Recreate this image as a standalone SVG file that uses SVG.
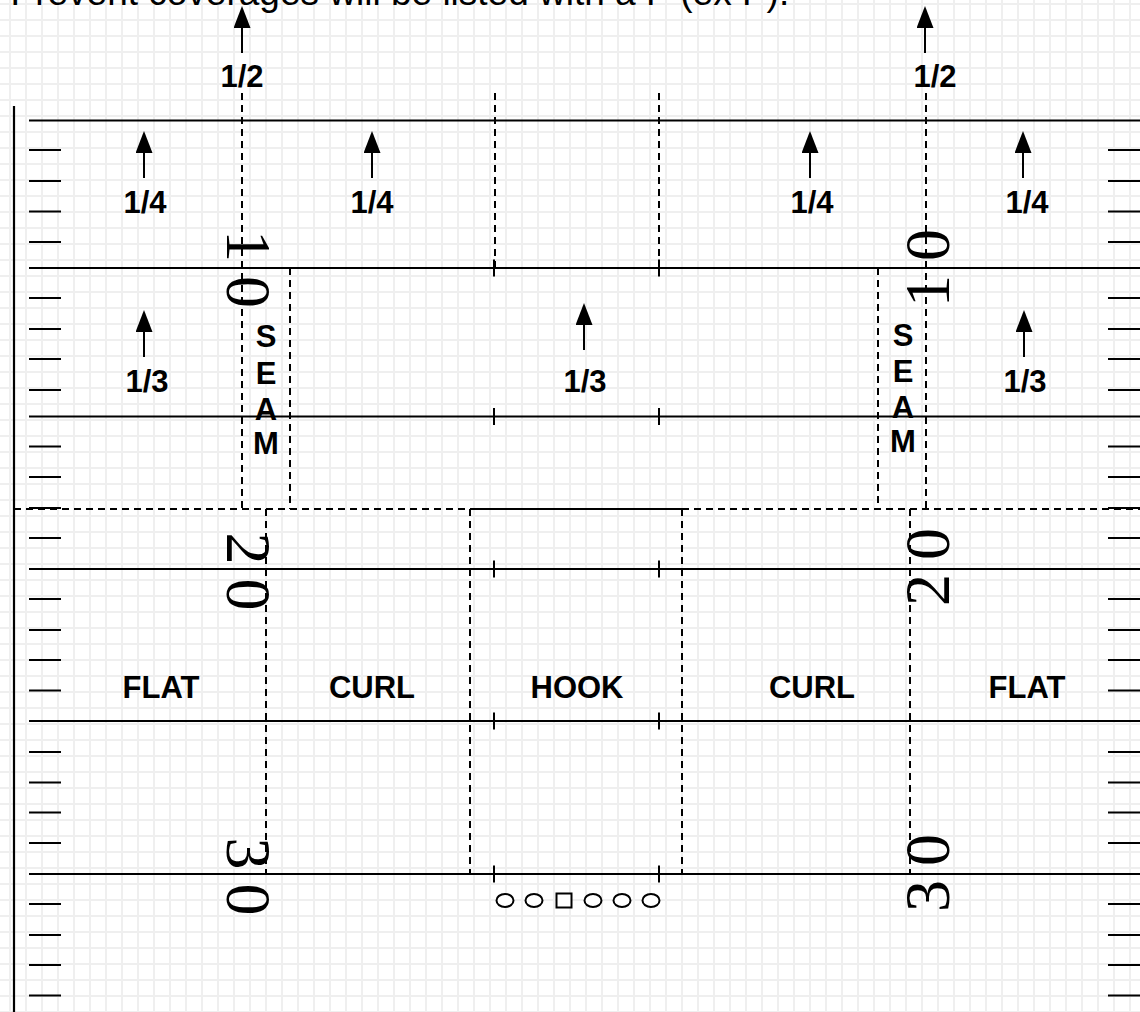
<svg xmlns="http://www.w3.org/2000/svg" width="1140" height="1012" viewBox="0 0 1140 1012">
  <defs>
    <pattern id="grid" x="9" y="3" width="16" height="16" patternUnits="userSpaceOnUse">
      <path d="M0 1H16M1 0V16" stroke="#efefef" stroke-width="2" fill="none"/>
    </pattern>
    <marker id="ah" markerUnits="userSpaceOnUse" markerWidth="22" markerHeight="17" viewBox="0 0 22 17" refX="0" refY="8.5" orient="auto">
      <path d="M0 0L22 8.5L0 17Z" fill="#000"/>
    </marker>
    <style>
      .yl{stroke:#000;stroke-width:2.2;fill:none}
      .dash{stroke:#000;stroke-width:2;stroke-dasharray:7 5;fill:none}
      .solid{stroke:#000;stroke-width:2;fill:none}
      .lbl{font-family:"Liberation Sans",Arial,sans-serif;font-weight:bold;font-size:31px;text-anchor:middle;fill:#000}
      .num{font-family:"Liberation Serif","Times New Roman",serif;font-size:64px;letter-spacing:14px;fill:#000}
      .arr{stroke:#000;stroke-width:2;fill:none;marker-end:url(#ah)}
      .pl{stroke:#000;stroke-width:2;fill:#fff}
    </style>
  </defs>
  <rect width="1140" height="1012" fill="#fff"/>
  <rect width="1140" height="1012" fill="url(#grid)"/>

  <text id="note" x="10.5" y="5" font-family="Liberation Sans, Arial, sans-serif" font-size="37" fill="#000">Prevent coverages will be listed with a P (ex P).</text>

  <g id="field">
    <path class="yl" d="M14 106V1012"/>
    <path class="yl" d="M29 120.5H1140M29 268H1140M29 416.5H1140M29 569H1140M29 721H1140M29 874H1140"/>
    <path class="solid" d="M29 150H61M29 181H61M29 211.5H61M29 242H61M29 298H61M29 329H61M29 359H61M29 390H61M29 446.5H61M29 477H61M29 508H61M29 538H61M29 599H61M29 630H61M29 660H61M29 690.5H61M29 752H61M29 782.5H61M29 812.5H61M29 843H61M29 904H61M29 935H61M29 965H61M29 995.5H61"/>
    <path class="solid" d="M1108 150H1140M1108 181H1140M1108 211.5H1140M1108 242H1140M1108 298H1140M1108 329H1140M1108 359H1140M1108 390H1140M1108 446.5H1140M1108 477H1140M1108 508H1140M1108 538H1140M1108 599H1140M1108 630H1140M1108 660H1140M1108 690.5H1140M1108 752H1140M1108 782.5H1140M1108 812.5H1140M1108 843H1140M1108 904H1140M1108 935H1140M1108 965H1140M1108 995.5H1140"/>
    <path class="solid" d="M494 259.5V276.5M659 259.5V276.5M494 408V425M659 408V425M494 560.5V577.5M659 560.5V577.5M494 712.5V729.5M659 712.5V729.5M494 865.5V882.5M659 865.5V882.5"/>
    <path class="dash" d="M495 93V268M659 93V268"/>
  </g>

  <g id="numbers">
    <text class="num" transform="translate(227 230) rotate(90)">10</text>
    <text class="num" transform="translate(227 532.5) rotate(90)">20</text>
    <text class="num" transform="translate(227 837.5) rotate(90)">30</text>
    <text class="num" transform="translate(949 307) rotate(-90)">10</text>
    <text class="num" transform="translate(949 606) rotate(-90)">20</text>
    <text class="num" transform="translate(949 912) rotate(-90)">30</text>
  </g>

  <g id="zones">
    <path class="dash" d="M242 93V509M926 93V509M290 268V509M878 268V509"/>
    <path class="dash" d="M14 509H470M682 509H1140"/>
    <path class="dash" d="M266 509V874M910 509V874M470 509V874M682 509V874"/>
    <path class="solid" d="M470 509H682"/>
  </g>

  <g id="offense">
    <ellipse class="pl" cx="505" cy="900.5" rx="8.5" ry="6.5"/>
    <ellipse class="pl" cx="534" cy="900.5" rx="8.5" ry="6.5"/>
    <rect class="pl" x="556.5" y="893.5" width="15" height="14"/>
    <ellipse class="pl" cx="593" cy="900.5" rx="8.5" ry="6.5"/>
    <ellipse class="pl" cx="622" cy="900.5" rx="8.5" ry="6.5"/>
    <ellipse class="pl" cx="651" cy="900.5" rx="8.5" ry="6.5"/>
  </g>

  <g id="connectors">
    <path class="arr" d="M242 53V28"/>
    <path class="arr" d="M925 53V28"/>
    <path class="arr" d="M144 178V153"/>
    <path class="arr" d="M372 178V153"/>
    <path class="arr" d="M810 178V153"/>
    <path class="arr" d="M1023 178V153"/>
    <path class="arr" d="M144 357V332"/>
    <path class="arr" d="M584 350V325"/>
    <path class="arr" d="M1024 357V332"/>
  </g>

  <g id="labels">
    <text class="lbl" x="242" y="87">1/2</text>
    <text class="lbl" x="935" y="87">1/2</text>
    <text class="lbl" x="145" y="213">1/4</text>
    <text class="lbl" x="372" y="213">1/4</text>
    <text class="lbl" x="812" y="213">1/4</text>
    <text class="lbl" x="1027" y="213">1/4</text>
    <text class="lbl" x="147" y="392">1/3</text>
    <text class="lbl" x="585" y="392">1/3</text>
    <text class="lbl" x="1025" y="392">1/3</text>
    <text class="lbl" id="seam-left"><tspan x="266" y="347">S</tspan><tspan x="266" y="384">E</tspan><tspan x="266" y="420">A</tspan><tspan x="266" y="454">M</tspan></text>
    <text class="lbl" id="seam-right"><tspan x="903" y="346">S</tspan><tspan x="903" y="382">E</tspan><tspan x="903" y="418">A</tspan><tspan x="903" y="452">M</tspan></text>
    <text class="lbl" x="161" y="698">FLAT</text>
    <text class="lbl" x="372" y="698">CURL</text>
    <text class="lbl" x="577" y="698">HOOK</text>
    <text class="lbl" x="812" y="698">CURL</text>
    <text class="lbl" x="1027" y="698">FLAT</text>
  </g>
</svg>
